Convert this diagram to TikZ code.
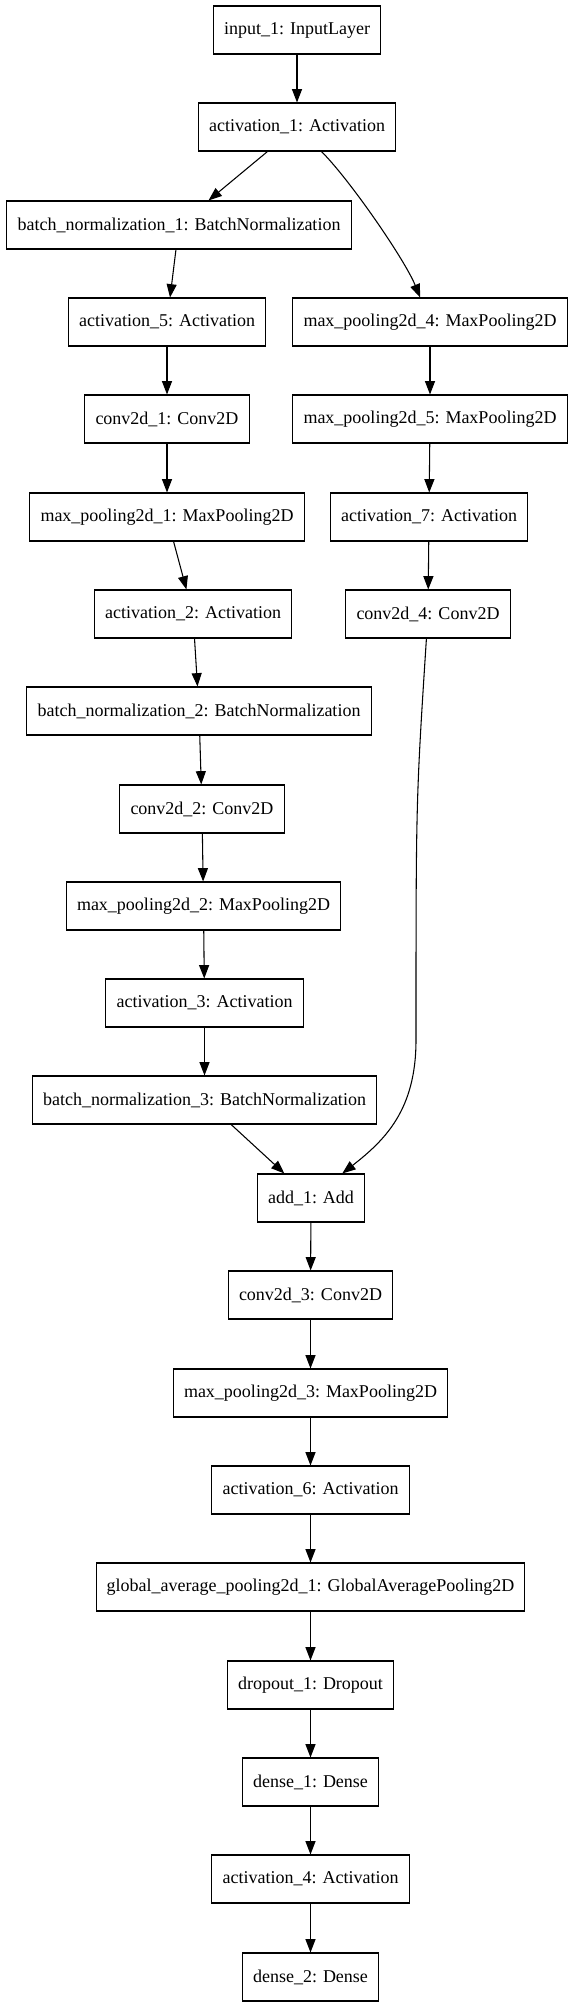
\documentclass[tikz,border=0pt]{standalone}
\usepackage{fontspec}
\setmainfont{Liberation Serif}
\usepackage{tikz}
\usetikzlibrary{arrows.meta}
\tikzset
{
  layer/.style={draw,line width=0.8pt,minimum height=36pt,inner xsep=8pt,inner ysep=0pt,font=\fontsize{13.5}{16}\selectfont},
  flow/.style={draw,line width=0.8pt,-{Triangle[length=10pt,width=7.5pt]}}
}

\begin{document}
\begin{tikzpicture}[x=0.75pt,y=-0.75pt]
        \useasboundingbox (0,0) rectangle (571,2007);

        % Input and first split
        \node[layer] (inp) at (297,30) {input\_1: InputLayer};
        \node[layer] (act1) at (297,127) {activation\_1: Activation};

        % Left branch
        \node[layer] (bn1) at (179,225) {batch\_normalization\_1: BatchNormalization};
        \node[layer] (act5) at (167,322) {activation\_5: Activation};
        \node[layer] (cv1) at (167,419) {conv2d\_1: Conv2D};
        \node[layer] (mp1) at (167,517) {max\_pooling2d\_1: MaxPooling2D};
        \node[layer] (act2) at (193,614) {activation\_2: Activation};
        \node[layer] (bn2) at (199,711) {batch\_normalization\_2: BatchNormalization};
        \node[layer] (cv2) at (202,809) {conv2d\_2: Conv2D};
        \node[layer] (mp2) at (203.5,906) {max\_pooling2d\_2: MaxPooling2D};
        \node[layer] (act3) at (204.5,1003) {activation\_3: Activation};
        \node[layer] (bn3) at (204.5,1100) {batch\_normalization\_3: BatchNormalization};

        % Right branch
        \node[layer] (mp4) at (430,322) {max\_pooling2d\_4: MaxPooling2D};
        \node[layer] (mp5) at (430,419) {max\_pooling2d\_5: MaxPooling2D};
        \node[layer] (act7) at (429,517) {activation\_7: Activation};
        \node[layer] (cv4) at (428,614) {conv2d\_4: Conv2D};

        % Merge and head
        \node[layer] (add1) at (311,1198) {add\_1: Add};
        \node[layer] (cv3) at (310.5,1295) {conv2d\_3: Conv2D};
        \node[layer] (mp3) at (310.5,1393) {max\_pooling2d\_3: MaxPooling2D};
        \node[layer] (act6) at (310.5,1490) {activation\_6: Activation};
        \node[layer] (gap1) at (310.5,1587) {global\_average\_pooling2d\_1: GlobalAveragePooling2D};
        \node[layer] (drop1) at (310.5,1685) {dropout\_1: Dropout};
        \node[layer] (dense1) at (310.5,1782) {dense\_1: Dense};
        \node[layer] (act4) at (310.5,1879) {activation\_4: Activation};
        \node[layer] (dense2) at (310.5,1977) {dense\_2: Dense};

        \coordinate (bend) at (416,1040);

        % Connections
        \draw[flow] (inp) -- (act1);
        \draw[flow] (act1) -- (bn1);
        \draw[flow] (act1) .. controls (350,180) and (405,260) .. (mp4);
        \draw[flow] (bn1) -- (act5);
        \draw[flow] (act5) -- (cv1);
        \draw[flow] (cv1) -- (mp1);
        \draw[flow] (mp1) -- (act2);
        \draw[flow] (act2) -- (bn2);
        \draw[flow] (bn2) -- (cv2);
        \draw[flow] (cv2) -- (mp2);
        \draw[flow] (mp2) -- (act3);
        \draw[flow] (act3) -- (bn3);
        \draw[flow] (mp4) -- (mp5);
        \draw[flow] (mp5) -- (act7);
        \draw[flow] (act7) -- (cv4);
        \draw[flow] (bn3) -- (add1);
        \draw[flow] (cv4) .. controls (416,800) .. (bend) .. controls (416,1110) and (385,1140) .. (add1);
        \draw[flow] (add1) -- (cv3);
        \draw[flow] (cv3) -- (mp3);
        \draw[flow] (mp3) -- (act6);
        \draw[flow] (act6) -- (gap1);
        \draw[flow] (gap1) -- (drop1);
        \draw[flow] (drop1) -- (dense1);
        \draw[flow] (dense1) -- (act4);
        \draw[flow] (act4) -- (dense2);
    \end{tikzpicture}
\end{document}
